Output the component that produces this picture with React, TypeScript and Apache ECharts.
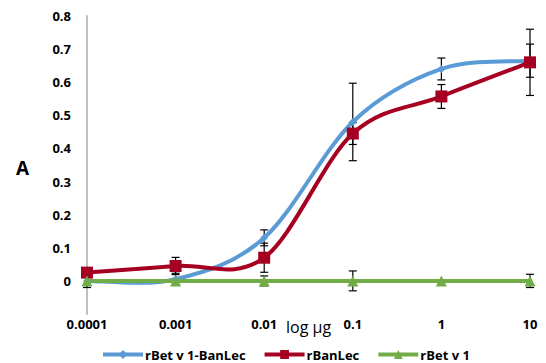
import React, { useEffect, useRef } from "react";
import * as echarts from "echarts";

const categories = ["0.0001", "0.001", "0.01", "0.1", "1", "10"];
const yTicks = [-0.1, 0, 0.1, 0.2, 0.3, 0.4, 0.5, 0.6, 0.7, 0.8];

const seriesNames = ["rBet v 1-BanLec", "rBanLec", "rBet v 1"];
const blueValues = [0, 0.005, 0.13, 0.48, 0.64, 0.665];
const blueErrors = [0, 0.018, 0.024, 0.117, 0.033, 0.05];
const redValues = [0.025, 0.045, 0.07, 0.445, 0.557, 0.66];
const redErrors = [0, 0.026, 0.044, 0.033, 0.036, 0.1];
const greenValues = [0, 0, 0, 0, 0, 0];
const greenErrors = [0.02, 0, 0.015, 0.03, 0, 0.02];

const colors = ["#5B9BD5", "#A50021", "#70AD47"];
const FONT = "'Open Sans', 'Liberation Sans', sans-serif";

function errorSeries(values: number[], errs: number[]) {
  return {
    type: "custom",
    silent: true,
    z: 1,
    data: values.map((v, i) => [i, v, errs[i]]),
    renderItem: (params: any, api: any) => {
      const idx = api.value(0);
      const v = api.value(1);
      const e = api.value(2);
      if (!e) return { type: "group", children: [] };
      const top = api.coord([idx, v + e]);
      const bot = api.coord([idx, v - e]);
      const w = 4;
      const style = { stroke: "#000", lineWidth: 1.2 };
      return {
        type: "group",
        children: [
          { type: "line", shape: { x1: top[0], y1: top[1], x2: bot[0], y2: bot[1] }, style },
          { type: "line", shape: { x1: top[0] - w, y1: top[1], x2: top[0] + w, y2: top[1] }, style },
          { type: "line", shape: { x1: bot[0] - w, y1: bot[1], x2: bot[0] + w, y2: bot[1] }, style },
        ],
      };
    },
  };
}

// Excel-like (Catmull-Rom) smoothed curve drawn through the axis scales
function curveSeries(values: number[], color: string, z: number) {
  return {
    type: "custom",
    silent: true,
    z,
    data: values.map((v, i) => [i, v]),
    renderItem: (params: any, api: any) => {
      const i = params.dataIndex;
      const n = values.length;
      if (i >= n - 1) return { type: "group", children: [] };
      const p = (j: number) => {
        const k = Math.max(0, Math.min(n - 1, j));
        return api.coord([k, values[k]]);
      };
      const p0 = p(i - 1), p1 = p(i), p2 = p(i + 1), p3 = p(i + 2);
      const c1x = p1[0] + (p2[0] - p0[0]) / 6;
      const c1y = p1[1] + (p2[1] - p0[1]) / 6;
      const c2x = p2[0] - (p3[0] - p1[0]) / 6;
      const c2y = p2[1] - (p3[1] - p1[1]) / 6;
      return {
        type: "bezierCurve",
        shape: { x1: p1[0], y1: p1[1], x2: p2[0], y2: p2[1], cpx1: c1x, cpy1: c1y, cpx2: c2x, cpy2: c2y },
        style: { stroke: color, lineWidth: 4, fill: null, lineCap: "round" },
      };
    },
  };
}

export default function App() {
  const ref = useRef<HTMLDivElement>(null);
  useEffect(() => {
    if (!ref.current) return;
    const chart = echarts.init(ref.current, null, { renderer: "svg" });
    const markerSeries = (name: string, data: number[], color: string, symbol: string, size: number, z: number) => ({
      name,
      type: "line",
      data,
      z,
      symbol,
      symbolSize: size,
      showSymbol: true,
      lineStyle: { color, width: 4, opacity: 0 },
      itemStyle: { color },
    });
    chart.setOption({
      animation: false,
      backgroundColor: "#fff",
      grid: { left: 87, right: 16, top: 16, bottom: 49, containLabel: false },
      legend: {
        top: 343,
        left: 96,
        itemWidth: 40,
        itemHeight: 11,
        itemGap: 17,
        data: seriesNames.map((name, i) => ({ name, lineStyle: { color: colors[i], width: 4, opacity: 1 } })),
        textStyle: { fontFamily: FONT, fontWeight: "bold", fontSize: 13, color: "#000", padding: [0, 0, 0, -3] },
      },
      xAxis: {
        type: "category",
        data: categories,
        boundaryGap: false,
        axisLine: { show: false },
        axisTick: { show: false },
        axisLabel: { margin: 3, fontFamily: FONT, fontWeight: "bold", fontSize: 13, color: "#000", interval: 0 },
        splitLine: { show: false },
      },
      yAxis: {
        type: "value",
        min: yTicks[0],
        max: yTicks[yTicks.length - 1],
        interval: 0.1,
        axisLine: { show: true, onZero: false, lineStyle: { color: "#BFBFBF", width: 2 } },
        axisTick: { show: false },
        splitLine: { show: false },
        axisLabel: {
          margin: 16,
          fontFamily: FONT,
          fontWeight: "bold",
          fontSize: 13,
          color: "#000",
          formatter: (v: number) => (v < -0.001 ? "" : String(Math.round(v * 10) / 10)),
        },
      },
      graphic: [
        { type: "text", left: 16, top: 158, style: { text: "A", fontFamily: FONT, fontWeight: "bold", fontSize: 19, fill: "#000" } },
        { type: "text", left: 286, top: 319, style: { text: "log μg", fontFamily: FONT, fontSize: 16, fill: "#000" } },
      ],
      series: [
        errorSeries(blueValues, blueErrors),
        errorSeries(redValues, redErrors),
        errorSeries(greenValues, greenErrors),
        curveSeries(blueValues, colors[0], 2),
        curveSeries(redValues, colors[1], 2),
        curveSeries(greenValues, colors[2], 2),
        markerSeries(seriesNames[0], blueValues, colors[0], "diamond", 8, 3),
        markerSeries(seriesNames[1], redValues, colors[1], "rect", 12, 4),
        markerSeries(seriesNames[2], greenValues, colors[2], "triangle", 11, 5),
      ],
    });
    return () => chart.dispose();
  }, []);
  return <div ref={ref} style={{ position: "fixed", left: 0, top: 0, width: 546, height: 363 }} />;
}
